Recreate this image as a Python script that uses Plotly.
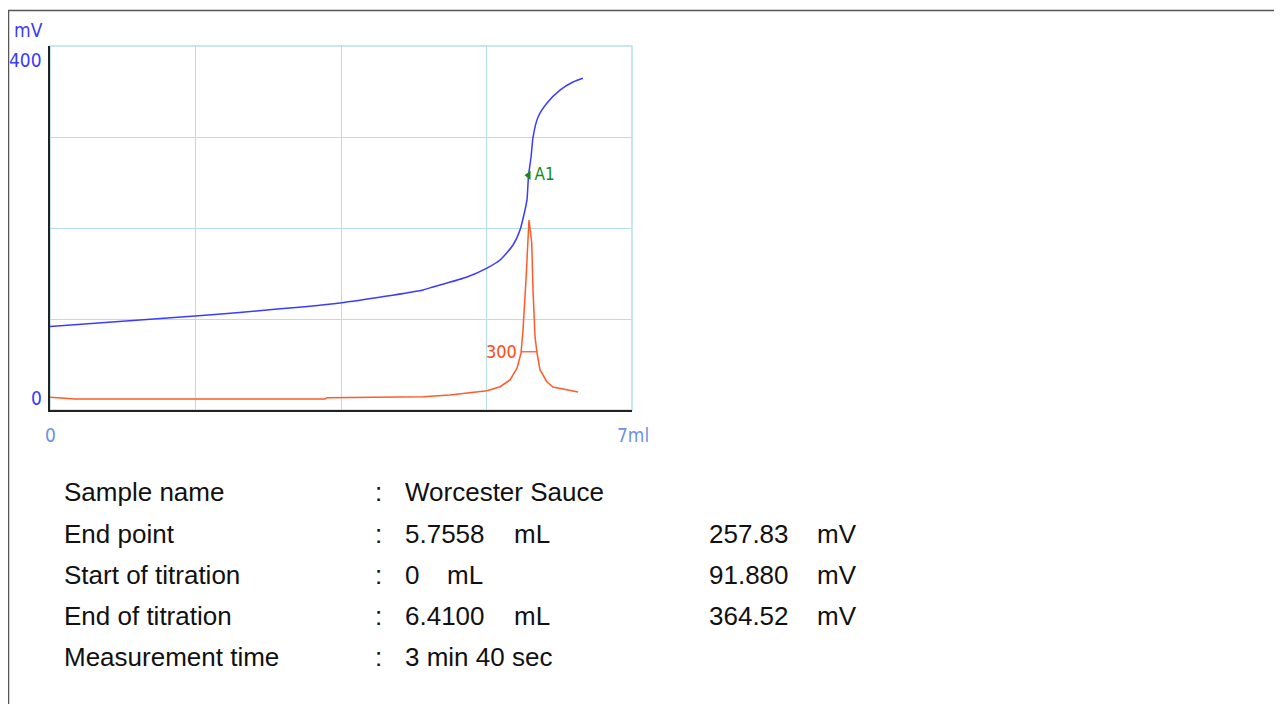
import plotly.graph_objects as go

# Titration curve (potential, mV) vs volume (mL)
vol_mv = [0.0, 1.744, 3.488, 4.486, 4.607, 5.016, 5.256, 5.413, 5.569, 5.653, 5.713,
          5.737, 5.7558, 5.786, 5.810, 5.870, 5.978, 6.134, 6.291, 6.41]
pot_mv = [91.88, 103.3, 117.6, 131.9, 135.2, 146.2, 156.0, 164.8, 181.3, 197.8, 219.8,
          230.8, 257.83, 278.0, 300.0, 322.0, 337.4, 351.6, 360.4, 364.52]

# First derivative curve (display units)
vol_d = [0.0, 0.30, 3.31, 3.33, 4.49, 4.81, 5.256, 5.413, 5.533, 5.617, 5.665, 5.689,
         5.725, 5.749, 5.761, 5.794, 5.809, 5.834, 5.858, 5.894, 5.978, 6.050, 6.218, 6.351]
deriv = [14.0, 12.0, 12.0, 13.5, 14.6, 16.5, 21.2, 25.6, 33.0, 46.0, 62.6, 88.0,
         143.0, 183.5, 208.8, 183.5, 132.0, 80.0, 62.6, 44.0, 30.8, 25.3, 22.0, 19.8]

# Half-height marker ("300") and end point marker ("A1")
marker_x = [5.665, 5.858]
marker_y = [64.0, 64.0]
marker_label = "300"
endpoint_ml = 5.7558
endpoint_mv = 257.83

x_range = [0, 7]
y_range = [0, 400]
x_tick_labels = ["0", "7ml"]
y_tick_labels = ["400", "0"]
y_unit = "mV"

info_labels = ["Sample name", "End point", "Start of titration", "End of titration", "Measurement time"]
info_values = ["Worcester Sauce", "5.7558", "0", "6.4100", "3 min 40 sec"]
info_units = ["", "mL", "mL", "mL", ""]
info_mv = ["", "257.83", "91.880", "364.52", ""]
info_mv_units = ["", "mV", "mV", "mV", ""]

BLUE = "#3b3bff"
RED = "#ff5a2a"
GRID = "#b4dfe6"
LBL_BLUE = "#3a3aff"
LBL_LIGHT = "#6f8fe6"
GREEN = "#158a15"

# the page places the figure 8 px from the top-left corner
OFF = 8

fig = go.Figure()
fig.add_trace(go.Scatter(x=vol_d, y=deriv, mode="lines",
                         line=dict(color=RED, width=1.5), hoverinfo="skip"))
fig.add_trace(go.Scatter(x=marker_x, y=marker_y, mode="lines",
                         line=dict(color=RED, width=1.3), hoverinfo="skip"))
fig.add_trace(go.Scatter(x=vol_mv, y=pot_mv, mode="lines", line_shape="spline",
                         line=dict(color=BLUE, width=1.5, smoothing=0.6), hoverinfo="skip"))
fig.add_trace(go.Scatter(x=[endpoint_ml], y=[endpoint_mv], mode="markers+text",
                         marker=dict(symbol="triangle-left", color=GREEN, size=8),
                         text=["A1"], textposition="middle right",
                         textfont=dict(family="DejaVu Sans Condensed, DejaVu Sans", size=17, color=GREEN),
                         hoverinfo="skip"))
fig.add_annotation(x=marker_x[0], y=marker_y[0], xref="x", yref="y", text=marker_label,
                   showarrow=False, xanchor="right", yanchor="middle", xshift=-2,
                   font=dict(family="DejaVu Sans Condensed, DejaVu Sans", size=18, color="#ff4a10"))

axfont = dict(family="DejaVu Sans Condensed, DejaVu Sans", size=19)

# axis labels
fig.add_annotation(x=0, y=1.044, xref="paper", yref="paper", text=y_unit, showarrow=False,
                   xanchor="right", yanchor="middle", xshift=-5, font=dict(axfont, color=LBL_BLUE))
fig.add_annotation(x=0, y=0.9615, xref="paper", yref="paper", text=y_tick_labels[0], showarrow=False,
                   xanchor="right", yanchor="middle", xshift=-6, font=dict(axfont, color=LBL_BLUE))
fig.add_annotation(x=0, y=0.033, xref="paper", yref="paper", text=y_tick_labels[1], showarrow=False,
                   xanchor="right", yanchor="middle", xshift=-6, font=dict(axfont, color=LBL_BLUE))
fig.add_annotation(x=x_range[0], y=-0.0687, xref="x", yref="paper", text=x_tick_labels[0], showarrow=False,
                   xanchor="center", yanchor="middle", font=dict(axfont, color=LBL_LIGHT))
fig.add_annotation(x=x_range[1], y=-0.0687, xref="x", yref="paper", text=x_tick_labels[1], showarrow=False,
                   xanchor="center", yanchor="middle", xshift=1, font=dict(axfont, color=LBL_LIGHT))

# info block
txtfont = dict(family="Liberation Sans, Arial", size=26, color="#111111")
rows_y = [492, 534, 575, 616, 657]
def px_x(p):
    return (p - 50) / 582.0
def px_y(p):
    return (410 - p) / 364.0
for i in range(len(info_labels)):
    yy = px_y(rows_y[i])
    fig.add_annotation(x=px_x(62), y=yy, xref="paper", yref="paper", text=info_labels[i],
                       showarrow=False, xanchor="left", yanchor="middle", font=txtfont)
    fig.add_annotation(x=px_x(373), y=yy, xref="paper", yref="paper", text=":",
                       showarrow=False, xanchor="left", yanchor="middle", font=txtfont)
    fig.add_annotation(x=px_x(403), y=yy, xref="paper", yref="paper", text=info_values[i],
                       showarrow=False, xanchor="left", yanchor="middle", font=txtfont)
    if info_units[i]:
        ux = 445 if info_values[i] == "0" else 512
        fig.add_annotation(x=px_x(ux), y=yy, xref="paper", yref="paper", text=info_units[i],
                           showarrow=False, xanchor="left", yanchor="middle", font=txtfont)
    if info_mv[i]:
        fig.add_annotation(x=px_x(707), y=yy, xref="paper", yref="paper", text=info_mv[i],
                           showarrow=False, xanchor="left", yanchor="middle", font=txtfont)
        fig.add_annotation(x=px_x(815), y=yy, xref="paper", yref="paper", text=info_mv_units[i],
                           showarrow=False, xanchor="left", yanchor="middle", font=txtfont)

# plot frame (light blue top/right) and outer border
fig.add_shape(type="rect", xref="paper", yref="paper", x0=0, x1=1, y0=0, y1=1,
              line=dict(color=GRID, width=1.5), layer="below")
fig.add_shape(type="rect", xref="paper", yref="paper", x0=px_x(8.5), x1=px_x(1300),
              y0=px_y(720), y1=px_y(10.5), line=dict(color="#555555", width=1.5), layer="below")

fig.update_layout(
    width=1282 - OFF, height=704 - OFF,
    margin=dict(l=50 - OFF, r=650, t=46 - OFF, b=294),
    paper_bgcolor="white", plot_bgcolor="white",
    showlegend=False,
)
fig.update_xaxes(range=x_range, dtick=1.75, tick0=0, showgrid=True, gridcolor=GRID, gridwidth=1.2,
                 showticklabels=False, zeroline=False, showline=True, linecolor="#222222",
                 linewidth=1.5, ticks="", fixedrange=True)
fig.update_yaxes(range=y_range, dtick=100, tick0=0, showgrid=True, gridcolor=GRID, gridwidth=1.2,
                 showticklabels=False, zeroline=False, showline=True, linecolor="#222222",
                 linewidth=1.5, ticks="", fixedrange=True)

fig.write_html("out.html")
